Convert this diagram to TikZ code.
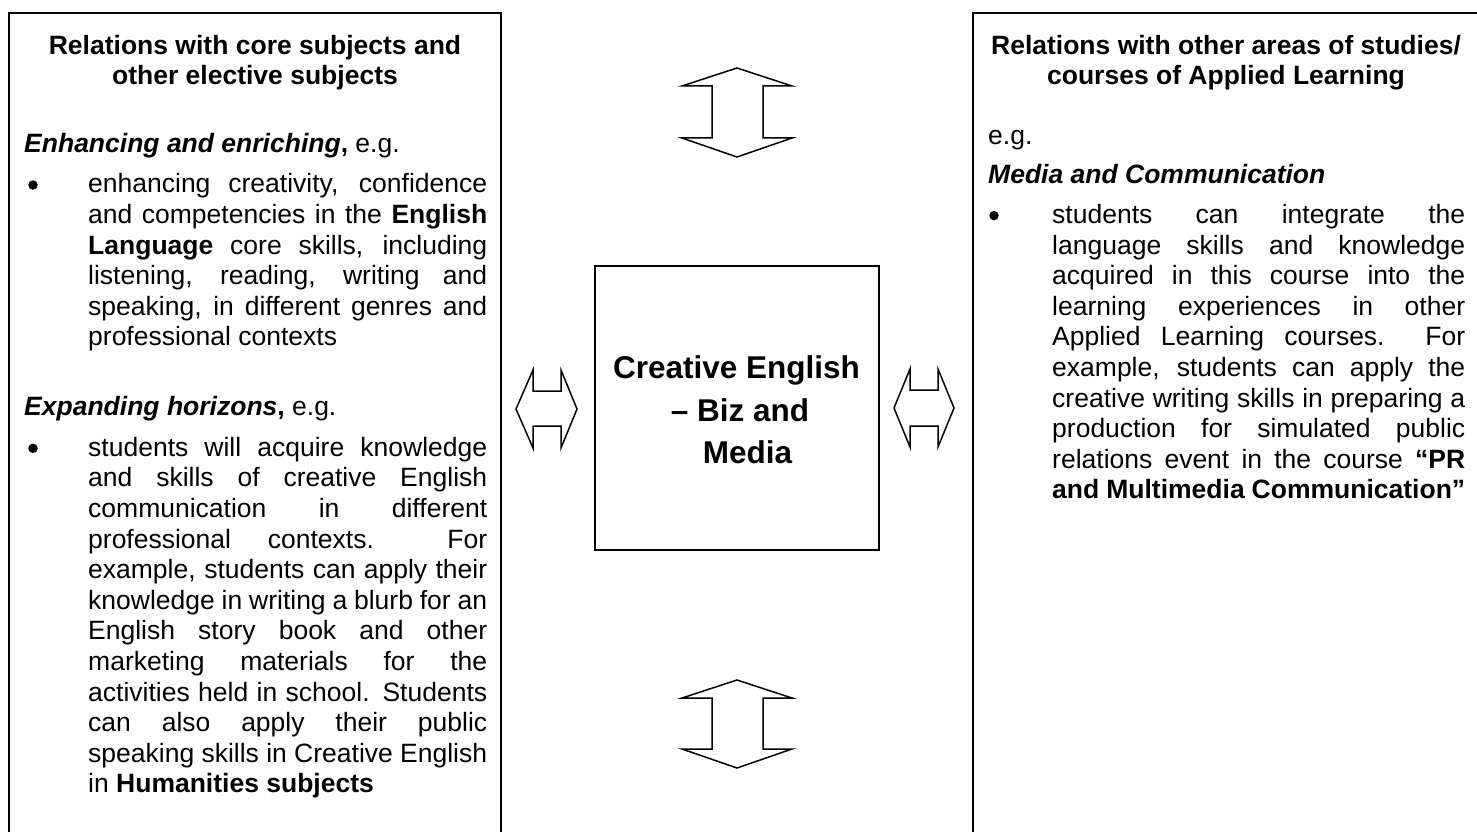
\documentclass[tikz,border=0pt]{standalone}
\usepackage{fontspec}
\setmainfont{Liberation Sans}
\tolerance=10000
\hyphenpenalty=10000
\begin{document}
\begin{tikzpicture}[x=1pt,y=-1pt,
  frame/.style={line width=2pt},
  blockarrow/.style={line width=1.5pt, line join=miter, fill=white},
  body/.style={inner sep=0pt, font=\fontsize{26.5}{30.6}\selectfont},
  para/.style={body, anchor=north west, yshift=21.42pt, align=justify},
  headline/.style={body, anchor=north, yshift=21.42pt, align=center, font=\fontsize{26.5}{30.6}\selectfont\bfseries},
  single/.style={body, anchor=base west},
  bulletmark/.style={circle, fill=black, inner sep=0pt, minimum size=9.5pt},
  coretext/.style={inner sep=0pt, anchor=base, font=\fontsize{31.5}{41.5}\selectfont\bfseries}
]
\useasboundingbox (0,0) rectangle (1477,832);
\clip (0,0) rectangle (1477,832);

% frames
\draw[frame] (9,13) rectangle (501,850);
\draw[frame] (973,13) rectangle (1490,850);
\node[draw, line width=2pt, minimum width=284pt, minimum height=284pt, inner sep=0pt] (core) at (737,408) {};

% centre text
\node[coretext] (c1) at (736.5,378) {Creative English};
\node[coretext] (c2) at (740,421) {– Biz and};
\node[coretext] (c3) at (747.5,463) {Media};

% block arrows
\draw[blockarrow] (737,68) -- (792,86) -- (763,86) -- (763,138) -- (792,138) -- (737,157)
  -- (682,138) -- (712,138) -- (712,86) -- (682,86) -- cycle;
\draw[blockarrow] (737,680) -- (792,698) -- (763,698) -- (763,749) -- (792,749) -- (737,768)
  -- (682,749) -- (712,749) -- (712,698) -- (682,698) -- cycle;
\draw[blockarrow] (516,409) -- (533,370) -- (533,391) -- (561,391) -- (561,370) -- (577,409)
  -- (561,448) -- (561,426) -- (533,426) -- (533,448) -- cycle;
\draw[blockarrow] (894,408) -- (910,369) -- (910,390) -- (938,390) -- (938,369) -- (954,408)
  -- (938,447) -- (938,426) -- (910,426) -- (910,447) -- cycle;

% left column
\node[headline] (lh) at (255,54) {\strut Relations with core subjects and\\other elective subjects};
\node[single] (lh1) at (24,152) {\textbf{\textit{Enhancing and enriching}}\textbf{,} e.g.};
\node[bulletmark] (lb1) at (33,185) {};
\node[para, text width=399pt] (lp1) at (88,192.7) {\strut enhancing creativity, confidence\linebreak
 and competencies in the \textbf{English}\linebreak
 \textbf{Language} core skills, including\linebreak
 listening, reading, writing and\linebreak
 speaking, in different genres and\linebreak
 professional contexts};
\node[single] (lh2) at (24,415) {\textbf{\textit{Expanding horizons}}\textbf{,} e.g.};
\node[bulletmark] (lb2) at (33,448.3) {};
\node[para, text width=399pt] (lp2) at (88,456) {\strut students will acquire knowledge\linebreak
 and skills of creative English\linebreak
 communication in different\linebreak
 professional contexts.\ \ For\linebreak
 example, students can apply their\linebreak
 knowledge in writing a blurb for an\linebreak
 English story book and other\linebreak
 marketing materials for the\linebreak
 activities held in school. Students\linebreak
 can also apply their public\linebreak
 speaking skills in Creative English\linebreak
 in \textbf{Humanities subjects}};

% right column
\node[headline] (rh) at (1226,54) {\strut Relations with other areas of studies/\\courses of Applied Learning};
\node[single] (re) at (988,145) {e.g.};
\node[single] (rm) at (988,183.3) {\textbf{\textit{Media and Communication}}};
\node[bulletmark] (rb) at (994,215.6) {};
\node[para, text width=413pt] (rp) at (1052,223.3) {\strut students can integrate the\linebreak
 language skills and knowledge\linebreak
 acquired in this course into the\linebreak
 learning experiences in other\linebreak
 Applied Learning courses.\ \ For\linebreak
 example, students can apply the\linebreak
 creative writing skills in preparing a\linebreak
 production for simulated public\linebreak
 relations event in the course \textbf{“PR}\linebreak
 \textbf{and Multimedia Communication”}};
\end{tikzpicture}
\end{document}
